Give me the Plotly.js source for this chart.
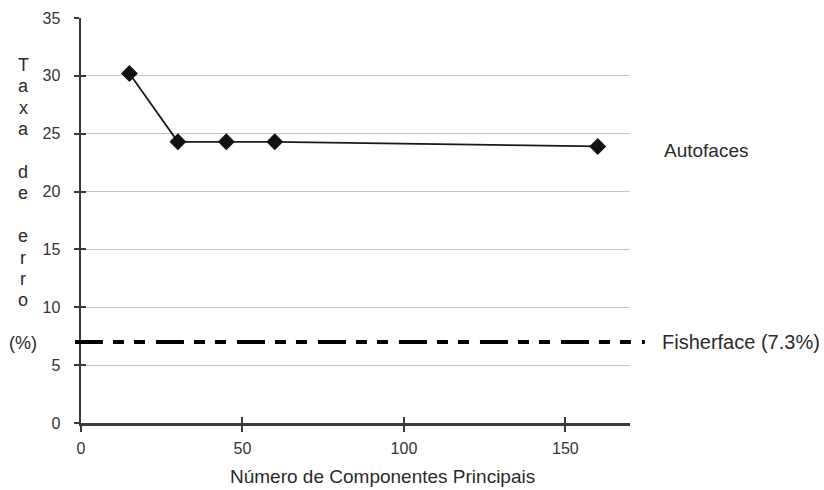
<!DOCTYPE html>
<html>
<head>
<meta charset="utf-8">
<script src="https://cdn.plot.ly/plotly-3.0.1.min.js"></script>
<style>html,body{margin:0;padding:0;background:#fff;}#chart{width:824px;height:490px;}</style>
</head>
<body>
<div id="chart"></div>
<script>
// Data
const components = [15, 30, 45, 60, 160];
const errorRate = [30.2, 24.3, 24.3, 24.3, 23.9];
const fisherfaceRate = 7.0;
const seriesLabel = 'Autofaces';
const fisherLabel = 'Fisherface (7.3%)';
const xTickVals = [0, 50, 100, 150];
const yTickVals = [0, 5, 10, 15, 20, 25, 30, 35];
const xTitle = 'Número de Componentes Principais';
const yTitleLines = ['T', 'a', 'x', 'a', '', 'd', 'e', '', 'e', 'r', 'r', 'o', '', '(%)'];

const FONT = 'Liberation Sans, Arial, Helvetica, sans-serif';
const TXT = '#2a2a2a';
const AX = '#3a3a3a';

const plotTop = 18, plotBottom = 423, plotH = plotBottom - plotTop;
const annotations = [];
yTitleLines.forEach((s, i) => {
  if (!s) return;
  const py = 65 + i * 21.4;
  annotations.push({
    text: s, xref: 'paper', yref: 'paper', x: -0.105, y: (plotBottom - py) / plotH,
    xanchor: 'center', yanchor: 'middle', showarrow: false,
    font: {family: FONT, size: 18, color: TXT}
  });
});
annotations.push({
  text: seriesLabel, xref: 'paper', yref: 'paper', x: 1.058, y: 0.674,
  xanchor: 'left', yanchor: 'middle', showarrow: false,
  font: {family: FONT, size: 19, color: TXT}
});
annotations.push({
  text: fisherLabel, xref: 'paper', yref: 'y', x: 1.055, y: fisherfaceRate,
  xanchor: 'left', yanchor: 'middle', showarrow: false,
  font: {family: FONT, size: 20, color: TXT}
});
annotations.push({
  text: xTitle, xref: 'paper', yref: 'paper', x: 0.55, y: -0.131,
  xanchor: 'center', yanchor: 'middle', showarrow: false,
  font: {family: FONT, size: 19, color: TXT}
});

const traces = [
  {
    x: components, y: errorRate, type: 'scatter', mode: 'lines+markers',
    line: {color: '#1a1a1a', width: 1.8},
    marker: {symbol: 'diamond', size: 13, color: '#111'},
    showlegend: false, hoverinfo: 'skip', cliponaxis: false
  },
  {
    x: components, y: errorRate, xaxis: 'x2', yaxis: 'y2', type: 'scatter', mode: 'lines',
    line: {width: 0}, opacity: 0, showlegend: false, hoverinfo: 'skip'
  }
];

const layout = {
  width: 824, height: 490,
  margin: {l: 81, r: 194, t: 18, b: 67, pad: 0},
  paper_bgcolor: '#fff', plot_bgcolor: '#fff',
  font: {family: FONT, color: TXT},
  xaxis: {
    range: [0, 170], tickvals: xTickVals, ticktext: xTickVals.map(String),
    ticks: 'outside', ticklen: 6, tickwidth: 2, tickcolor: AX,
    showline: true, linecolor: AX, linewidth: 2.5,
    showgrid: false, zeroline: false,
    tickfont: {family: FONT, size: 16, color: '#333'}, ticklabelstandoff: 3
  },
  yaxis: {
    range: [0, 35], tickvals: yTickVals, ticktext: yTickVals.map(String),
    ticks: 'outside', ticklen: 5, tickwidth: 2, tickcolor: AX,
    showline: true, linecolor: AX, linewidth: 2.5,
    showgrid: true, gridcolor: '#c4c4c4', gridwidth: 1, zeroline: false,
    tickfont: {family: FONT, size: 16, color: '#333'}, ticklabelstandoff: 10
  },
  xaxis2: {
    overlaying: 'x', anchor: 'y', range: [0, 170], tickvals: xTickVals,
    ticks: 'inside', ticklen: 6, tickwidth: 2, tickcolor: AX,
    showticklabels: false, showgrid: false, zeroline: false, showline: false
  },
  yaxis2: {
    overlaying: 'y', anchor: 'x', side: 'left', range: [0, 35], tickvals: yTickVals,
    ticks: 'inside', ticklen: 5, tickwidth: 2, tickcolor: AX,
    showticklabels: false, showgrid: false, zeroline: false, showline: false
  },
  shapes: [{
    type: 'line', xref: 'paper', yref: 'y', x0: -0.011, x1: 1.027,
    y0: fisherfaceRate, y1: fisherfaceRate,
    line: {color: '#000', width: 4, dash: '28px,10px,11px,10px,11px,11px'},
    layer: 'above'
  }],
  annotations: annotations
};

Plotly.newPlot('chart', traces, layout, {displayModeBar: false, staticPlot: true});
</script>
</body>
</html>
